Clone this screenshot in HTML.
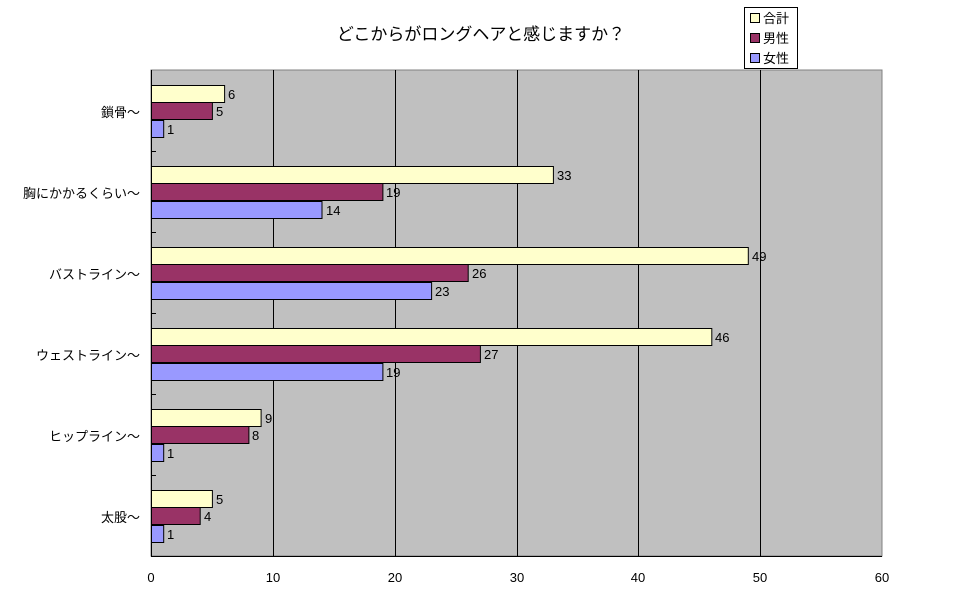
<!DOCTYPE html>
<html><head><meta charset="utf-8"><style>body{margin:0;background:#fff}svg{display:block}text{font-family:"Liberation Sans","Noto Sans CJK JP",sans-serif}</style></head><body>
<svg width="966" height="603" xmlns="http://www.w3.org/2000/svg">
<text x="481" y="40" font-size="17" text-anchor="middle">どこからがロングヘアと感じますか？</text>
<rect x="151" y="70" width="731" height="486" fill="#c0c0c0" stroke="#808080"/>
<g stroke="#000" stroke-width="1">
<line x1="273.5" y1="70" x2="273.5" y2="556"/><line x1="395.5" y1="70" x2="395.5" y2="556"/><line x1="517.5" y1="70" x2="517.5" y2="556"/><line x1="638.5" y1="70" x2="638.5" y2="556"/><line x1="760.5" y1="70" x2="760.5" y2="556"/>
<line x1="151.5" y1="70" x2="151.5" y2="556"/><line x1="151" y1="556.5" x2="882" y2="556.5"/>
<line x1="151" y1="151.5" x2="156" y2="151.5"/><line x1="151" y1="232.5" x2="156" y2="232.5"/><line x1="151" y1="313.5" x2="156" y2="313.5"/><line x1="151" y1="394.5" x2="156" y2="394.5"/><line x1="151" y1="475.5" x2="156" y2="475.5"/>
</g>
<g font-size="13" text-anchor="end">
<text x="140" y="117">鎖骨～</text><text x="140" y="198">胸にかかるくらい～</text><text x="140" y="279">バストライン～</text><text x="140" y="360">ウェストライン～</text><text x="140" y="441">ヒップライン～</text><text x="140" y="522">太股～</text>
</g>
<g font-size="13" text-anchor="middle">
<text x="151" y="582">0</text><text x="273" y="582">10</text><text x="395" y="582">20</text><text x="517" y="582">30</text><text x="638" y="582">40</text><text x="760" y="582">50</text><text x="882" y="582">60</text>
</g>
<g stroke="#000">
<rect x="151.5" y="85.5" width="73.1" height="17" fill="#ffffcc"/>
<rect x="151.5" y="102.5" width="60.9" height="17" fill="#993366"/>
<rect x="151.5" y="120.5" width="12.2" height="17" fill="#9999ff"/>
<rect x="151.5" y="166.5" width="401.9" height="17" fill="#ffffcc"/>
<rect x="151.5" y="183.5" width="231.4" height="17" fill="#993366"/>
<rect x="151.5" y="201.5" width="170.5" height="17" fill="#9999ff"/>
<rect x="151.5" y="247.5" width="596.8" height="17" fill="#ffffcc"/>
<rect x="151.5" y="264.5" width="316.7" height="17" fill="#993366"/>
<rect x="151.5" y="282.5" width="280.1" height="17" fill="#9999ff"/>
<rect x="151.5" y="328.5" width="560.3" height="17" fill="#ffffcc"/>
<rect x="151.5" y="345.5" width="328.9" height="17" fill="#993366"/>
<rect x="151.5" y="363.5" width="231.4" height="17" fill="#9999ff"/>
<rect x="151.5" y="409.5" width="109.6" height="17" fill="#ffffcc"/>
<rect x="151.5" y="426.5" width="97.4" height="17" fill="#993366"/>
<rect x="151.5" y="444.5" width="12.2" height="17" fill="#9999ff"/>
<rect x="151.5" y="490.5" width="60.9" height="17" fill="#ffffcc"/>
<rect x="151.5" y="507.5" width="48.7" height="17" fill="#993366"/>
<rect x="151.5" y="525.5" width="12.2" height="17" fill="#9999ff"/>
</g>
<g font-size="13">
<text x="228" y="99">6</text><text x="216" y="116">5</text><text x="167" y="134">1</text>
<text x="557" y="180">33</text><text x="386" y="197">19</text><text x="326" y="215">14</text>
<text x="752" y="261">49</text><text x="472" y="278">26</text><text x="435" y="296">23</text>
<text x="715" y="342">46</text><text x="484" y="359">27</text><text x="386" y="377">19</text>
<text x="265" y="423">9</text><text x="252" y="440">8</text><text x="167" y="458">1</text>
<text x="216" y="504">5</text><text x="204" y="521">4</text><text x="167" y="539">1</text>
</g>
<rect x="744.5" y="7.5" width="53" height="61" fill="#fff" stroke="#000"/>
<rect x="750.5" y="13.5" width="9" height="9" fill="#ffffcc" stroke="#000"/><text x="763" y="23" font-size="13">合計</text>
<rect x="750.5" y="33.5" width="9" height="9" fill="#993366" stroke="#000"/><text x="763" y="43" font-size="13">男性</text>
<rect x="750.5" y="53.5" width="9" height="9" fill="#9999ff" stroke="#000"/><text x="763" y="63" font-size="13">女性</text>
</svg>
</body></html>
